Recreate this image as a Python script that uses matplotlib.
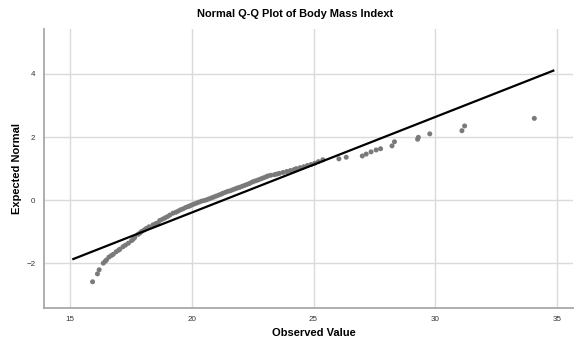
import matplotlib
matplotlib.use("Agg")
import matplotlib.pyplot as plt

plt.rcParams['font.family'] = ['Liberation Sans', 'DejaVu Sans']

observed = [15.93, 16.13, 16.20, 16.37, 16.45, 16.50, 16.60, 16.70, 16.78, 16.90,
            17.00, 17.05, 17.18, 17.28, 17.40, 17.53, 17.60, 17.66, 17.80, 17.87,
            17.94, 18.05, 18.14, 18.25, 18.41, 18.52, 18.62, 18.69, 18.80, 18.90,
            19.00, 19.10, 19.23, 19.35, 19.45, 19.55, 19.65, 19.75, 19.85, 19.92,
            20.00, 20.10, 20.20, 20.30, 20.40, 20.50, 20.60, 20.70, 20.80, 20.90,
            21.00, 21.10, 21.20, 21.28, 21.38, 21.48, 21.58, 21.68, 21.78, 21.88,
            21.97, 22.07, 22.17, 22.27, 22.37, 22.47, 22.56, 22.65, 22.75, 22.85,
            22.95, 23.05, 23.13, 23.25, 23.40, 23.50, 23.60, 23.75, 23.90, 24.05,
            24.20, 24.29, 24.45, 24.60, 24.75, 24.90, 25.05, 25.20, 25.38, 26.04,
            26.34, 27.00, 27.16, 27.36, 27.57, 27.75, 28.22, 28.32, 29.27, 29.30,
            29.77, 31.09, 31.20, 34.06]
expected = [-2.58, -2.33, -2.20, -1.99, -1.93, -1.89, -1.80, -1.75, -1.71, -1.63,
            -1.58, -1.55, -1.47, -1.42, -1.36, -1.28, -1.23, -1.18, -1.08, -1.04,
            -0.99, -0.94, -0.89, -0.84, -0.78, -0.74, -0.71, -0.64, -0.60, -0.56,
            -0.52, -0.47, -0.41, -0.38, -0.34, -0.30, -0.27, -0.23, -0.20, -0.18,
            -0.15, -0.12, -0.09, -0.06, -0.03, -0.01, 0.01, 0.04, 0.07, 0.10,
            0.13, 0.16, 0.19, 0.22, 0.25, 0.28, 0.30, 0.33, 0.36, 0.39,
            0.41, 0.44, 0.47, 0.50, 0.53, 0.57, 0.60, 0.62, 0.65, 0.68,
            0.71, 0.74, 0.77, 0.79, 0.81, 0.83, 0.85, 0.88, 0.91, 0.94,
            0.97, 1.00, 1.03, 1.06, 1.10, 1.13, 1.17, 1.22, 1.28, 1.31,
            1.36, 1.40, 1.46, 1.53, 1.59, 1.63, 1.72, 1.85, 1.93, 1.99,
            2.10, 2.20, 2.35, 2.59]

# reference line endpoints
line_x = [15.14, 34.84]
line_y = [-1.86, 4.10]

xticks = [15, 20, 25, 30, 35]
yticks = [-2, 0, 2, 4]

fig = plt.figure(figsize=(5.79, 3.42), dpi=100)
ax = fig.add_axes([0.0753, 0.0994, 0.914, 0.816])

ax.scatter(observed, expected, s=13, color='#7a7a7a', edgecolors='none', zorder=3)
ax.plot(line_x, line_y, color='black', linewidth=1.6, zorder=4)

ax.set_xlim(13.92, 35.64)
ax.set_ylim(-3.41, 5.42)
ax.set_xticks(xticks)
ax.set_yticks(yticks)
ax.grid(True, color='#dadada', linewidth=1.0, zorder=0)
ax.set_axisbelow(True)
ax.tick_params(length=0, labelsize=5.8, colors='#333333', pad=6)

for s in ['top', 'right']:
    ax.spines[s].set_visible(False)
for s in ['left', 'bottom']:
    ax.spines[s].set_color('#a8a8a8')
    ax.spines[s].set_linewidth(1.3)

ax.set_xlabel('Observed Value', fontsize=8, fontweight='bold', va='center')
ax.xaxis.set_label_coords(0.511, -0.09)
ax.set_ylabel('Expected Normal', fontsize=8, fontweight='bold', va='center')
ax.yaxis.set_label_coords(-0.051, 0.5)
fig.text(0.51, 0.96, 'Normal Q-Q Plot of Body Mass Indext', fontsize=7.9,
         fontweight='bold', ha='center', va='center')

fig.savefig('out.png', dpi=100)
